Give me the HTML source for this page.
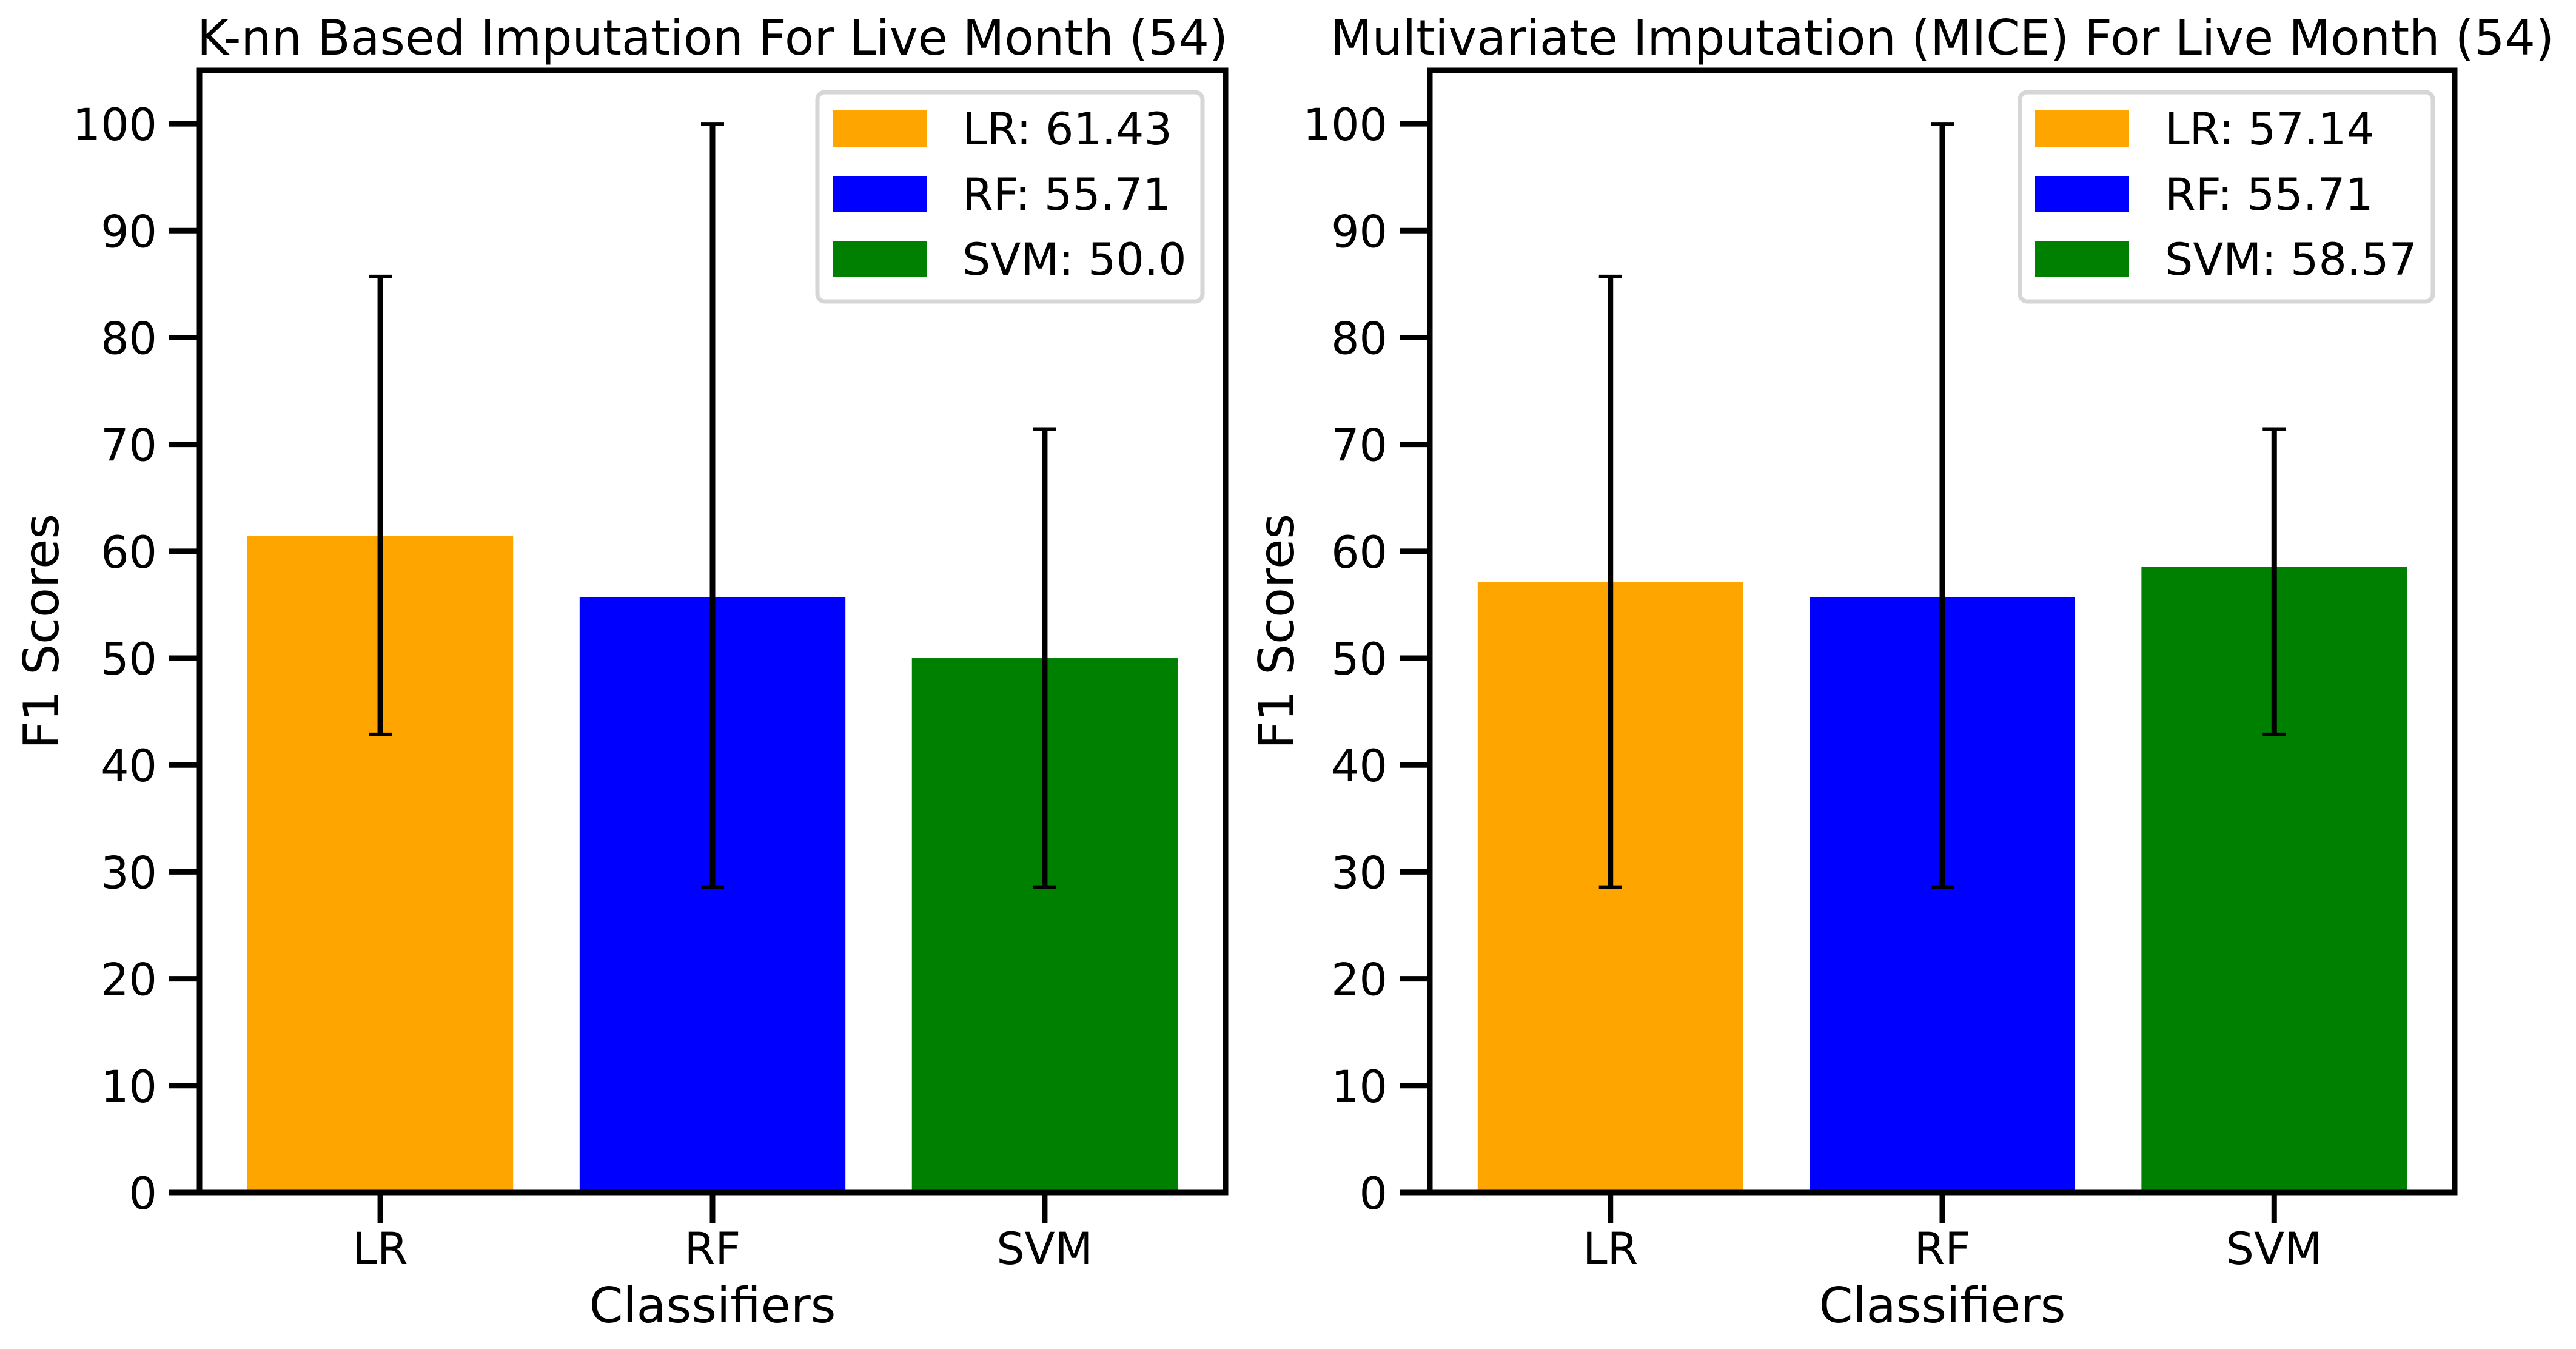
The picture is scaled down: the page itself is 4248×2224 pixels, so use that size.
<!DOCTYPE html>
<html><head><meta charset="utf-8"><style>
html,body{margin:0;padding:0;background:#fff;}
svg{display:block;font-family:"DejaVu Sans","Liberation Sans",sans-serif;}
</style></head><body>
<svg id="chart" xmlns="http://www.w3.org/2000/svg" width="4248" height="2224" viewBox="0 0 4248 2224"></svg>
<script>
const categories = ["LR", "RF", "SVM"];
const colors = ["#ffa500", "#0000ff", "#008000"];
const titles = ["K-nn Based Imputation For Live Month (54)", "Multivariate Imputation (MICE) For Live Month (54)"];
const knnValues = [61.43, 55.71, 50.0];
const knnLabels = ["61.43", "55.71", "50.0"];
const knnLow = [42.86, 28.57, 28.57];
const knnHigh = [85.71, 100, 71.43];
const miceValues = [57.14, 55.71, 58.57];
const miceLabels = ["57.14", "55.71", "58.57"];
const miceLow = [28.57, 28.57, 42.86];
const miceHigh = [85.71, 100, 71.43];
const yTicks = [0, 10, 20, 30, 40, 50, 60, 70, 80, 90, 100];
const panelValues = [knnValues, miceValues];
const panelLabels = [knnLabels, miceLabels];
const panelLow = [knnLow, miceLow];
const panelHigh = [knnHigh, miceHigh];

const svgEl = document.getElementById('chart');
const NS = "http://www.w3.org/2000/svg";
function mk(tag, attrs, parent) {
  const e = document.createElementNS(NS, tag);
  for (const k in attrs) e.setAttribute(k, attrs[k]);
  (parent || svgEl).appendChild(e);
  return e;
}
const panels = [
  {left: 329, right: 2021, legX: 1348, legW: 635, patchOff: 26, ylabX: 68, titleW: 1700},
  {left: 2358, right: 4048, legX: 3331, legW: 681, patchOff: 25, ylabX: 2105, titleW: 2018}
];
const plotTop = 116, plotBottom = 1966, yMax = 105;
panels.forEach((p, pi) => {
  const g = mk('g', {});
  
  
  const xs = i => p.left + (i + 0.544) / 3.088 * (p.right - p.left);
  const unit = (p.right - p.left) / 3.088;
  const ys = v => plotBottom - v / yMax * (plotBottom - plotTop);
  const vals = panelValues[pi], lo = panelLow[pi], hi = panelHigh[pi], labs = panelLabels[pi];
  categories.forEach((c, i) => {
    const r = mk('rect', {x: xs(i) - 0.4 * unit, y: ys(vals[i]), width: 0.8 * unit, height: ys(0) - ys(vals[i]), fill: colors[i]}, g);
    
    
  });
  categories.forEach((c, i) => {
    const eg = mk('g', {stroke: '#000', 'stroke-width': 9}, g);
    
    
    mk('line', {x1: xs(i), x2: xs(i), y1: ys(lo[i]), y2: ys(hi[i])}, eg);
    mk('line', {x1: xs(i) - 19, x2: xs(i) + 19, y1: ys(lo[i]), y2: ys(lo[i]), 'stroke-width': 6}, eg);
    mk('line', {x1: xs(i) - 19, x2: xs(i) + 19, y1: ys(hi[i]), y2: ys(hi[i]), 'stroke-width': 6}, eg);
  });
  const frame = mk('rect', {x: p.left, y: plotTop, width: p.right - p.left, height: plotBottom - plotTop, fill: 'none', stroke: '#000', 'stroke-width': 9}, g);
  
  
  yTicks.forEach(t => {
    mk('line', {x1: p.left - 50, x2: p.left, y1: ys(t), y2: ys(t), stroke: '#000', 'stroke-width': 9}, g);
    const tx = mk('text', {x: p.left - 70, y: ys(t) + 27, 'text-anchor': 'end', 'font-size': 73}, g);
    tx.textContent = t;
    
    
  });
  categories.forEach((c, i) => {
    mk('line', {x1: xs(i), x2: xs(i), y1: plotBottom, y2: plotBottom + 50, stroke: '#000', 'stroke-width': 9}, g);
    const tx = mk('text', {x: xs(i), y: 2084, 'text-anchor': 'middle', 'font-size': 73}, g);
    tx.textContent = c;
    
    
  });
  const xl = mk('text', {x: (p.left + p.right) / 2, y: 2180, 'text-anchor': 'middle', 'font-size': 80}, g);
  xl.textContent = 'Classifiers';
  
  
  const yl = mk('text', {x: 0, y: 0, 'text-anchor': 'middle', 'font-size': 80, transform: `translate(${p.ylabX + 28},1041) rotate(-90)`}, g);
  yl.textContent = 'F1 Scores';
  
  
  const ti = mk('text', {x: (p.left + p.right) / 2, y: 90, 'text-anchor': 'middle', 'font-size': 80, textLength: p.titleW, lengthAdjust: 'spacingAndGlyphs'}, g);
  ti.textContent = titles[pi];
  
  
  const lg = mk('g', {}, g);
  
  
  mk('rect', {x: p.legX, y: 152, width: p.legW, height: 345, rx: 12, fill: '#fff', stroke: '#d6d6d6', 'stroke-width': 7}, lg);
  const centers = [212, 320, 427];
  categories.forEach((c, i) => {
    const eg = mk('g', {}, lg);
    
    
    mk('rect', {x: p.legX + p.patchOff, y: centers[i] - 30, width: 155, height: 60, fill: colors[i]}, eg);
    const tx = mk('text', {x: p.legX + 239, y: centers[i] + 26, 'font-size': 73}, eg);
    tx.textContent = c + ': ' + labs[i];
  });
});
</script>
</body></html>
